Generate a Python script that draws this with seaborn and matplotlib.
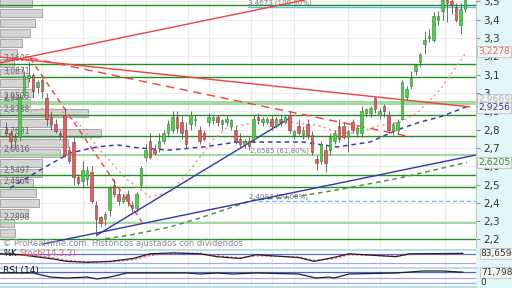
import numpy as np
import pandas as pd
import matplotlib
matplotlib.use('Agg')
import matplotlib.pyplot as plt
import seaborn as sns
from matplotlib.patches import Rectangle

sns.set_theme(style='white')
plt.rcParams['font.family'] = ['DejaVu Sans']

# ---------------- data ----------------
opens = [2.80, 2.78, 2.74, 2.76, 2.99, 3.08, 3.10, 3.03, 3.07, 2.97,
         2.87, 2.83, 2.78, 2.88, 2.69, 2.73, 2.54, 2.52, 2.53, 2.57,
         2.39, 2.32, 2.31, 2.36, 2.50, 2.45, 2.41, 2.45, 2.39, 2.37,
         2.50, 2.65, 2.74, 2.69, 2.70, 2.74, 2.78, 2.80, 2.87, 2.84,
         2.80, 2.83, 2.85, 2.80, 2.78, 2.84, 2.85, 2.87, 2.83, 2.84,
         2.82, 2.80, 2.75, 2.72, 2.74, 2.75, 2.87, 2.84, 2.84, 2.86,
         2.82, 2.86, 2.84, 2.88, 2.77, 2.82, 2.77, 2.83, 2.77, 2.64,
         2.63, 2.69, 2.69, 2.74, 2.82, 2.82, 2.76, 2.84, 2.78, 2.78,
         2.89, 2.89, 2.97, 2.88, 2.93, 2.88, 2.79, 2.80, 2.86, 2.98,
         3.04, 3.12, 3.17, 3.27, 3.30, 3.29, 3.40, 3.45, 3.51, 3.50,
         3.47, 3.37, 3.46]
highs = [2.84, 2.80, 2.78, 3.00, 3.12, 3.17, 3.11, 3.07, 3.08, 3.00,
         2.90, 2.86, 2.80, 2.92, 2.71, 2.76, 2.56, 2.63, 2.60, 2.60,
         2.41, 2.33, 2.35, 2.49, 2.53, 2.47, 2.45, 2.47, 2.41, 2.46,
         2.60, 2.72, 2.78, 2.72, 2.78, 2.80, 2.85, 2.90, 2.90, 2.88,
         2.84, 2.90, 2.88, 2.82, 2.80, 2.89, 2.88, 2.88, 2.86, 2.88,
         2.86, 2.82, 2.78, 2.75, 2.76, 2.88, 2.89, 2.87, 2.87, 2.88,
         2.87, 2.88, 2.88, 2.90, 2.80, 2.86, 2.82, 2.86, 2.79, 2.66,
         2.74, 2.72, 2.78, 2.80, 2.86, 2.84, 2.80, 2.86, 2.82, 2.93,
         2.92, 2.93, 2.98, 2.92, 2.94, 2.90, 2.84, 2.86, 3.07, 3.04,
         3.12, 3.16, 3.22, 3.34, 3.35, 3.44, 3.45, 3.52, 3.52, 3.52,
         3.49, 3.49, 3.52]
lows = [2.76, 2.70, 2.70, 2.74, 2.98, 3.06, 2.98, 3.00, 2.97, 2.82,
        2.80, 2.78, 2.75, 2.65, 2.62, 2.50, 2.50, 2.48, 2.50, 2.40,
        2.22, 2.27, 2.28, 2.33, 2.43, 2.39, 2.40, 2.38, 2.35, 2.35,
        2.48, 2.63, 2.64, 2.66, 2.68, 2.72, 2.76, 2.78, 2.78, 2.75,
        2.70, 2.80, 2.82, 2.72, 2.74, 2.82, 2.83, 2.82, 2.80, 2.82,
        2.80, 2.72, 2.70, 2.70, 2.69, 2.73, 2.83, 2.82, 2.83, 2.80,
        2.81, 2.82, 2.83, 2.78, 2.75, 2.77, 2.75, 2.75, 2.66, 2.58,
        2.61, 2.57, 2.66, 2.72, 2.73, 2.75, 2.68, 2.78, 2.76, 2.76,
        2.87, 2.87, 2.89, 2.86, 2.87, 2.78, 2.77, 2.78, 2.85, 2.96,
        3.02, 3.10, 3.14, 3.21, 3.28, 3.28, 3.37, 3.40, 3.39, 3.43,
        3.39, 3.32, 3.44]
closes = [2.78, 2.74, 2.76, 2.98, 3.09, 3.10, 3.01, 3.06, 3.01, 2.86,
          2.83, 2.79, 2.77, 2.66, 2.63, 2.54, 2.51, 2.58, 2.58, 2.41,
          2.31, 2.29, 2.34, 2.48, 2.45, 2.41, 2.43, 2.41, 2.37, 2.45,
          2.59, 2.69, 2.65, 2.67, 2.74, 2.78, 2.83, 2.87, 2.81, 2.78,
          2.72, 2.88, 2.86, 2.74, 2.75, 2.87, 2.87, 2.84, 2.85, 2.86,
          2.85, 2.74, 2.72, 2.74, 2.71, 2.86, 2.85, 2.86, 2.86, 2.82,
          2.86, 2.84, 2.87, 2.80, 2.79, 2.78, 2.80, 2.77, 2.68, 2.62,
          2.72, 2.62, 2.76, 2.78, 2.75, 2.76, 2.79, 2.80, 2.81, 2.90,
          2.91, 2.92, 2.91, 2.90, 2.90, 2.80, 2.83, 2.84, 3.06, 3.02,
          3.08, 3.15, 3.21, 3.29, 3.31, 3.42, 3.42, 3.51, 3.49, 3.48,
          3.40, 3.46, 3.51]

# volume profile (price bin centre, volume)
vp_price = [3.4913, 3.4366, 3.3820, 3.3274, 3.2728, 3.2182, 3.1636, 3.1089,
            3.0543, 2.9997, 2.9451, 2.8905, 2.8359, 2.7813, 2.7266, 2.6720,
            2.6174, 2.5628, 2.5082, 2.4536, 2.3990, 2.3443, 2.2897, 2.2351]
vp_volume = [32, 42, 35, 30, 22, 17, 14, 23, 28, 33, 30, 88,
             50, 101, 68, 60, 42, 42, 33, 36, 39, 28, 14, 15]

# support / resistance levels
dark_levels = [3.48, 3.1606, 3.0871, 2.8788, 2.7631, 2.5497, 2.4864, 2.2]
light_levels = [2.9523, 2.94, 2.6616, 2.2898]
level_labels = ["3,1606", "3,0871", "2,9523", "2,94", "2,8788", "2,7631",
                "2,6616", "2,5497", "2,4864", "2,2898"]
level_label_values = [3.1606, 3.0871, 2.9523, 2.94, 2.8788, 2.7631,
                      2.6616, 2.5497, 2.4864, 2.2898]

# trend lines (day index, price)
red_up_x, red_up_y = [-1.5, 66.4], [3.164, 3.508]
red_dn_x, red_dn_y = [-1.33, 103.1], [3.196, 2.924]
red_dash_x, red_dash_y = [5.33, 90.2], [3.191, 2.759]
red_steep_x, red_steep_y = [5.33, 30.2], [3.191, 2.295]
blue_steep_x, blue_steep_y = [20.22, 63.11], [2.224, 2.863]
blue_flat_x, blue_flat_y = [8.22, 104.4], [2.175, 2.661]

# moving averages
ma_fast_x = [5.33, 8.67, 12, 16.44, 20.89, 26.44, 32, 36.44, 40.89, 43.78,
             46, 49.11, 54.89, 63.11, 69.78, 74.22, 78.67, 81.56, 87.56,
             91.33, 96.44, 102.44]
ma_fast_y = [2.896, 2.918, 2.907, 2.825, 2.688, 2.536, 2.432, 2.459, 2.579,
             2.672, 2.743, 2.809, 2.836, 2.841, 2.820, 2.781, 2.781, 2.814,
             2.841, 2.890, 3.016, 3.2278]
ma_mid_x = [0.89, 7.56, 14.22, 20.22, 24.67, 29.78, 36.44, 43.78, 51.33,
            57.11, 66, 73.56, 80.89, 86.89, 92, 96.44, 102.44]
ma_mid_y = [2.481, 2.579, 2.672, 2.705, 2.716, 2.699, 2.688, 2.705, 2.732,
            2.732, 2.732, 2.705, 2.732, 2.798, 2.841, 2.869, 2.9256]
ma_slow_x = [20.22, 27.56, 36.44, 43.11, 54.89, 65.33, 73.56, 87.56, 102.44]
ma_slow_y = [2.197, 2.224, 2.268, 2.317, 2.415, 2.437, 2.470, 2.536, 2.6205]

# fibonacci
fib_values = [3.4673, 2.6585, 2.4097]
fib_labels = ["3,4673 (100,00%)", "2,6585 (61,80%)", "2,4097 (50,00%)"]

# oscillators
stoch_x = [-1.33, 3.11, 9.78, 13.56, 18, 23.11, 28.22, 32, 37.11, 43.11,
           46.89, 52, 55.56, 65.11, 68.44, 72.67, 76.22, 86.67, 89.56, 101.56]
stoch_k = [81, 75, 50, 31, 25, 31, 50, 81, 87, 81, 62, 50, 75, 56, 31, 56,
           81, 62, 81, 83.659]
stoch_d = [84, 78, 58, 38, 27, 28, 42, 70, 85, 84, 68, 54, 68, 60, 38, 48,
           75, 66, 76, 84]
rsi_x = [-1.33, 6, 9.78, 13.56, 18, 20.22, 23.11, 26.89, 32, 35.78, 40.22,
         43.11, 46.89, 50.44, 55.56, 65.11, 68.89, 71.78, 72.89, 76.22,
         86.67, 89.56, 92.67, 97.11, 101.56]
rsi_v = [66.7, 66.7, 40, 33, 40, 27, 40, 66.7, 66.7, 66.7, 66.7, 60, 66.7,
         60, 66.7, 60, 33, 40, 33, 60, 66.7, 73, 80, 80, 71.798]

price_ticks = [2.2, 2.3, 2.4, 2.5, 2.6, 2.7, 2.8, 2.9, 3.0, 3.1, 3.2, 3.3, 3.4, 3.5]
price_tick_labels = ["2,2", "2,3", "2,4", "2,5", "2,6", "2,7", "2,8", "2,9",
                     "3", "3,1", "3,2", "3,3", "3,4", "3,5"]
vgrid_days = [8, 17, 22, 26.5, 31, 40.5, 45, 54.5, 59, 64, 76, 83, 97.5]

# ---------------- figure ----------------
W, H = 512, 288
fig = plt.figure(figsize=(W / 100, H / 100), dpi=100)
fig.patch.set_facecolor('white')
fig.add_artist(Rectangle((476 / W, 0), 36 / W, 1, transform=fig.transFigure,
                         facecolor='#e2f6fa', edgecolor='none', zorder=0))

XL = (-6 / 4.5, 470 / 4.5)
YL = (2.1587, 3.5076)
rect = [0, 1 - 247 / H, 476 / W, 247 / H]

# base axes: grid + volume profile
axv = fig.add_axes(rect)
axv.set_facecolor('white')
axv.set_xlim(0, 476)
axv.set_ylim(*YL)
for p in price_ticks:
    axv.axhline(p, color='#ececec', lw=0.7, zorder=0)
for d in vgrid_days:
    axv.axvline((d * 4.5 + 6), color='#ebebdf', lw=0.8, zorder=0)
axv.barh(vp_price, vp_volume, height=0.048, left=0, color='#d4d4d4',
         edgecolor='#9c9c9c', linewidth=0.6, zorder=2)
axv.set_xticks([])
axv.set_yticks([])
for s in axv.spines.values():
    s.set_visible(False)

# main price axes
ax = fig.add_axes(rect)
ax.patch.set_alpha(0)
ax.set_xlim(*XL)
ax.set_ylim(*YL)

for lv in light_levels:
    ax.axhline(lv, color='#8fd28f', lw=1.2, zorder=3)
for lv in dark_levels:
    ax.axhline(lv, color='#1f8f1f', lw=1.0, zorder=3)

for txt, val in zip(level_labels, level_label_values):
    ax.text(3 / 476, val + 0.004, txt, transform=ax.get_yaxis_transform(),
            fontsize=5.5, color='#666666', va='bottom', ha='left', zorder=4)

# fib lines
ax.plot([53.8, XL[1]], [fib_values[0]] * 2, color='#5bc0f0', lw=1.0, zorder=3)
ax.plot([56, XL[1]], [fib_values[2]] * 2, color='#5bc0f0', lw=1.0,
        ls=(0, (3, 2)), zorder=3)
ax.text(53.8, fib_values[0] + 0.006, fib_labels[0], fontsize=5, color='#777777',
        va='bottom', zorder=4)
ax.text(54.2, fib_values[1] + 0.01, fib_labels[1], fontsize=5, color='#777777',
        va='bottom', zorder=4)
ax.text(54.0, fib_values[2] + 0.006, fib_labels[2], fontsize=5, color='#777777',
        va='bottom', zorder=4)

# moving averages
sns.lineplot(x=ma_fast_x, y=ma_fast_y, ax=ax, color='#f08c8c', lw=1.0,
             linestyle=(0, (1.5, 2.5)), zorder=4)
sns.lineplot(x=ma_mid_x, y=ma_mid_y, ax=ax, color='#3a3ab0', lw=1.1,
             linestyle=(0, (3, 2.5)), zorder=4)
sns.lineplot(x=ma_slow_x, y=ma_slow_y, ax=ax, color='#4f8f4f', lw=1.1,
             linestyle=(0, (3, 2.5)), zorder=4)

# trend lines
ax.plot(red_up_x, red_up_y, color='#f04040', lw=1.0, zorder=5)
ax.plot(red_dn_x, red_dn_y, color='#f04040', lw=1.0, zorder=5)
ax.plot(red_dash_x, red_dash_y, color='#f04040', lw=1.0, ls=(0, (6, 4)), zorder=5)
ax.plot(red_steep_x, red_steep_y, color='#f04040', lw=1.0, ls=(0, (4, 3)), zorder=5)
ax.plot(blue_steep_x, blue_steep_y, color='#3434b4', lw=1.0, zorder=5)
ax.plot(blue_flat_x, blue_flat_y, color='#3434b4', lw=1.0, zorder=5)

# candles
o = np.array(opens); h = np.array(highs); l = np.array(lows); c = np.array(closes)
idx = np.arange(len(o))
up = c >= o
ax.vlines(idx, l, h, color='#555555', lw=0.6, zorder=6)
body_lo = np.minimum(o, c)
body_h = np.maximum(np.abs(c - o), 0.006)
ax.bar(idx[up], body_h[up], bottom=body_lo[up], width=0.66, color='#44d444',
       edgecolor='#3a7a3a', linewidth=0.4, zorder=7)
ax.bar(idx[~up], body_h[~up], bottom=body_lo[~up], width=0.66, color='#e85c5c',
       edgecolor='#7a3a3a', linewidth=0.4, zorder=7)

ax.set_ylim(*YL)
ax.set_xlim(*XL)
ax.yaxis.tick_right()
ax.set_yticks(price_ticks)
ax.set_yticklabels(price_tick_labels)
ax.tick_params(axis='y', length=3, width=0.6, color='#777777', labelsize=7.5,
               labelcolor='#333333', pad=2, right=True, left=False)
ax.set_xticks([])
ax.set_xlabel(''); ax.set_ylabel('')
for s in ['top', 'left', 'bottom']:
    ax.spines[s].set_visible(False)
ax.spines['right'].set_color('#b8c8c8')
ax.spines['right'].set_linewidth(0.8)

# value boxes
def vbox(val, txt, col):
    ax.text(1.005, val, txt, transform=ax.get_yaxis_transform(), fontsize=6.6,
            color=col, va='center', ha='left', zorder=10, clip_on=False,
            bbox=dict(boxstyle='square,pad=0.1', facecolor='#f2f4f4',
                      edgecolor='#c0c0c0', linewidth=0.6))

vbox(3.2278, "3,2278", '#f06060')
vbox(2.9669, "2,9669", '#b8b8b8')
vbox(2.9226, "2,9256", '#3030a0')
vbox(2.6205, "2,6205", '#2a8a2a')

fig.text(3 / W, 1 - 243 / H, "© ProRealTime.com. Históricos ajustados con dividendos",
         fontsize=6, color='#8a8a8a', va='center', ha='left')

# stochastic panel
axs = fig.add_axes([0, 1 - 267 / H, 476 / W, 17 / H])
axs.set_facecolor('white')
axs.set_xlim(*XL)
axs.set_ylim(-6, 106)
for d in vgrid_days:
    axs.axvline(d, color='#ebebdf', lw=0.8, zorder=0)
axs.axhline(80, color='#6a6ae0', lw=0.9)
axs.axhline(20, color='#a8a8f0', lw=0.9)
sns.lineplot(x=stoch_x, y=stoch_d, ax=axs, color='#f06060', lw=0.9,
             linestyle=(0, (2, 1.5)))
sns.lineplot(x=stoch_x, y=stoch_k, ax=axs, color='#222222', lw=0.9)
axs.set_xlim(*XL)
axs.set_xticks([]); axs.set_yticks([])
axs.set_xlabel(''); axs.set_ylabel('')
for s in axs.spines.values():
    s.set_visible(False)
axs.spines['top'].set_visible(True)
axs.spines['top'].set_color('#a8dce8')
axs.text(3 / 476, 0.8, "%K", transform=axs.transAxes, fontsize=6, color='#111111',
         va='center')
axs.text(20 / 476, 0.8, "Stoch(14,3,3)", transform=axs.transAxes, fontsize=6,
         color='#f06060', va='center')
axs.text(1.01, 83.659, "83,659", transform=axs.get_yaxis_transform(), fontsize=6.5,
         color='#333333', va='center', ha='left', clip_on=False,
         bbox=dict(boxstyle='square,pad=0.1', facecolor='#f2f4f4',
                   edgecolor='#c0c0c0', linewidth=0.6))

# RSI panel
axr = fig.add_axes([0, 1 - 287 / H, 476 / W, 19 / H])
axr.set_facecolor('white')
axr.set_xlim(*XL)
axr.set_ylim(-26.7, 100)
for d in vgrid_days:
    axr.axvline(d, color='#ebebdf', lw=0.8, zorder=0)
axr.axhline(70, color='#5a5ae0', lw=0.9)
axr.axhline(30, color='#a8a8f0', lw=0.9)
axr.axhline(0, color='#a8a8f0', lw=0.9)
sns.lineplot(x=rsi_x, y=rsi_v, ax=axr, color='#222222', lw=0.9)
axr.set_xlim(*XL)
axr.set_xticks([]); axr.set_yticks([])
axr.set_xlabel(''); axr.set_ylabel('')
for s in axr.spines.values():
    s.set_visible(False)
axr.spines['top'].set_visible(True)
axr.spines['top'].set_color('#a8dce8')
axr.spines['bottom'].set_visible(True)
axr.spines['bottom'].set_color('#a8dce8')
axr.text(3 / 476, 0.85, "RSI (14)", transform=axr.transAxes, fontsize=6.5,
         color='#111111', va='center')
axr.text(1.01, 71.798, "71,798", transform=axr.get_yaxis_transform(), fontsize=6.5,
         color='#333333', va='center', ha='left', clip_on=False,
         bbox=dict(boxstyle='square,pad=0.1', facecolor='#f2f4f4',
                   edgecolor='#c0c0c0', linewidth=0.6))
axr.text(1.01, 0, "0", transform=axr.get_yaxis_transform(), fontsize=6.5,
         color='#333333', va='center', ha='left', clip_on=False)

fig.savefig('out.png', dpi=100, facecolor='white')
